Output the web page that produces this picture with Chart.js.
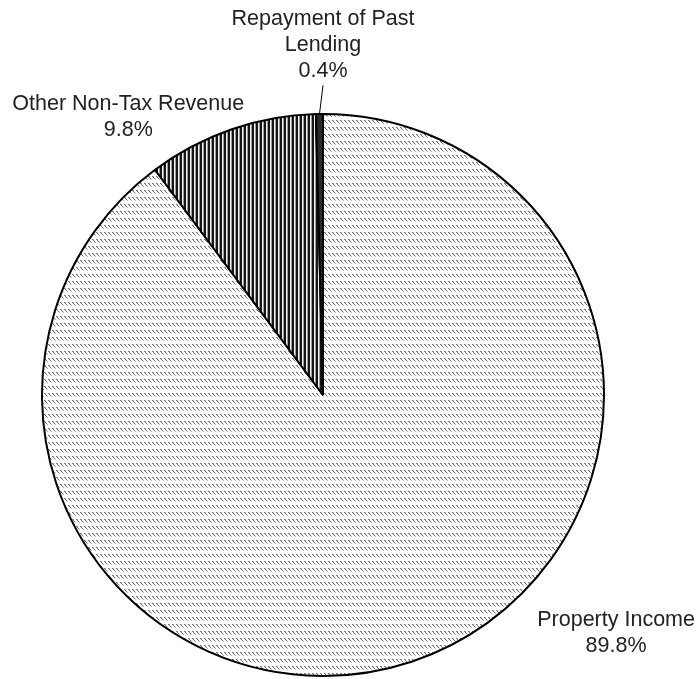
<!DOCTYPE html>
<html>
<head>
<meta charset="utf-8">
<script src="https://cdn.jsdelivr.net/npm/chart.js@4"></script>
<style>
  html, body { margin: 0; padding: 0; background: #ffffff; }
  #wrap { width: 698px; height: 679px; }
</style>
</head>
<body>
<div id="wrap"><canvas id="pie"></canvas></div>
<script>
// ================= DATA =================
const categories = ["Property Income", "Other Non-Tax Revenue", "Repayment of Past Lending"];
const shares = [89.8, 9.8, 0.4];
const shareLabels = ["89.8%", "9.8%", "0.4%"];

// ================= PATTERNS =================
function makeTile(w, h, draw){
    const c = document.createElement("canvas");
    c.width = w;
    c.height = h;
    const g = c.getContext("2d");
    draw(g);
    return g.createPattern(c, "repeat");
}

// light diagonal dash hatch (property income)
const hatchLight = makeTile(4, 7, g => {
    g.fillStyle = "#ffffff";
    g.fillRect(0, 0, 4, 7);
    g.fillStyle = "#6e6e6e";
    g.fillRect(0, 1, 1, 1);
    g.fillRect(1, 2, 1, 1);
    g.fillRect(2, 3, 1, 1);
    g.fillStyle = "#b0b0b0";
    g.fillRect(1, 1, 1, 1);
    g.fillRect(3, 4, 1, 1);
});

// vertical stripes (other non-tax revenue)
const stripes = makeTile(4, 1, g => {
    g.fillStyle = "#f4f4f4";
    g.fillRect(0, 0, 4, 1);
    g.fillStyle = "#151515";
    g.fillRect(0, 0, 2, 1);
    g.fillStyle = "#9a9a9a";
    g.fillRect(3, 0, 1, 1);
});

const fills = [hatchLight, stripes, "#2a2a2a"];

// ================= LABELS =================
// label anchors in units of the radius, relative to the pie centre
const labelSpots = [
    { dx: 1.043, dy: 0.80, lines: ["Property Income"] },
    { dx: -0.693, dy: -1.035, lines: ["Other Non-Tax Revenue"] },
    { dx: 0.0, dy: -1.337, lines: ["Repayment of Past", "Lending"], leader: true }
];

const pieLabels = {
    id: "pieLabels",
    afterDraw(chart){
        const ctx = chart.ctx;
        const arcs = chart.getDatasetMeta(0).data;
        if (!arcs.length) return;
        const cx = arcs[0].x, cy = arcs[0].y, r = arcs[0].outerRadius;

        ctx.save();
        ctx.fillStyle = "#222222";
        ctx.font = "21.5px 'Liberation Sans', Arial, sans-serif";
        ctx.textAlign = "center";
        ctx.textBaseline = "middle";

        labelSpots.forEach((s, i) => {
            const lines = s.lines.concat([shareLabels[i]]);
            const x = cx + s.dx * r;
            let y = cy + s.dy * r;
            lines.forEach(t => {
                ctx.fillText(t, x, y);
                y += 26;
            });

            if (s.leader){
                const a = arcs[i];
                const mid = (a.startAngle + a.endAngle) / 2;
                ctx.strokeStyle = "#000000";
                ctx.lineWidth = 1;
                ctx.beginPath();
                ctx.moveTo(cx + Math.cos(mid) * r, cy + Math.sin(mid) * r);
                ctx.lineTo(x, y - 26 + 14);
                ctx.stroke();
            }
        });
        ctx.restore();
    }
};

// ================= CHART =================
new Chart(document.getElementById("pie"), {
    type: "pie",
    data: {
        labels: categories,
        datasets: [{
            data: shares,
            backgroundColor: fills,
            borderColor: "#000000",
            borderWidth: 2
        }]
    },
    options: {
        responsive: true,
        maintainAspectRatio: false,
        animation: false,
        layout: {
            padding: { top: 113, bottom: 2, left: 41, right: 93 }
        },
        plugins: {
            legend: { display: false },
            tooltip: { enabled: false }
        }
    },
    plugins: [pieLabels]
});
</script>
</body>
</html>
